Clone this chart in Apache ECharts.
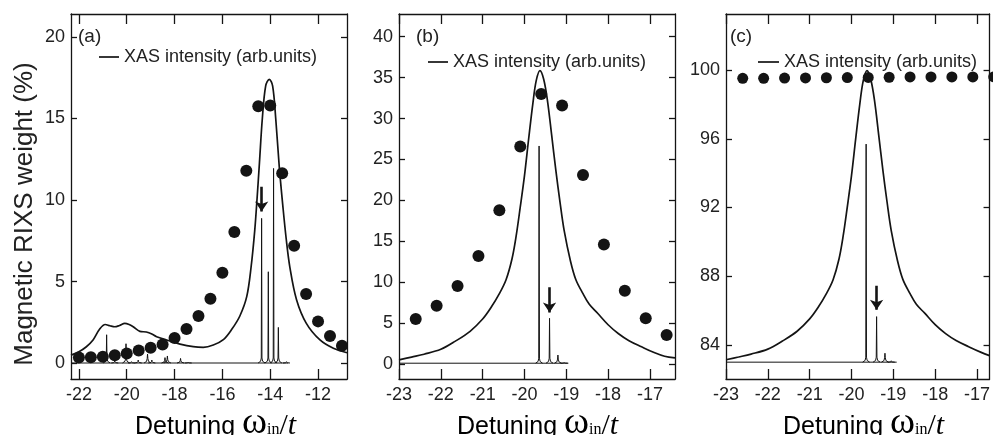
<!DOCTYPE html>
<html><head><meta charset="utf-8">
<script src="https://cdn.jsdelivr.net/npm/echarts@6/dist/echarts.min.js"></script>
<style>html,body{margin:0;padding:0;background:#fff}#c{width:993px;height:435px}</style>
</head><body><div id="c"></div>
<script>
// ---------- data ----------
const xTicksA = [-22,-20,-18,-16,-14,-12];
const yTicksA = [0,5,10,15,20];
const xTicksB = [-23,-22,-21,-20,-19,-18,-17];
const yTicksB = [0,5,10,15,20,25,30,35,40];
const xTicksC = [-23,-22,-21,-20,-19,-18,-17];
const yTicksC = [84,88,92,96,100];

const dotsA_x = [-22,-21.5,-21,-20.5,-20,-19.5,-19,-18.5,-18,-17.5,-17,-16.5,-16,-15.5,-15,-14.5,-14,-13.5,-13,-12.5,-12,-11.5,-11];
const dotsA_y = [0.35,0.37,0.4,0.5,0.6,0.78,0.95,1.15,1.55,2.1,2.9,3.95,5.55,8.05,11.8,15.75,15.8,11.65,7.2,4.25,2.57,1.67,1.08];
const dotsB_x = [-22.6,-22.1,-21.6,-21.1,-20.6,-20.1,-19.6,-19.1,-18.6,-18.1,-17.6,-17.1,-16.6];
const dotsB_y = [5.5,7.13,9.54,13.2,18.8,26.6,33.0,31.6,23.1,14.6,8.96,5.59,3.55];
const dotsC_x = [-22.6,-22.1,-21.6,-21.1,-20.6,-20.1,-19.6,-19.1,-18.6,-18.1,-17.6,-17.1,-16.6];
const dotsC_y = [99.52,99.52,99.53,99.54,99.55,99.56,99.57,99.58,99.6,99.6,99.6,99.6,99.6];

const xasA = [[-22.33,0.5],[-22.0,0.71],[-21.7,1.0],[-21.4,1.45],[-21.13,2.1],[-20.9,2.38],[-20.7,2.3],[-20.5,2.24],[-20.3,2.32],[-20.08,2.45],[-19.9,2.38],[-19.73,2.24],[-19.45,1.96],[-19.18,1.92],[-18.95,1.8],[-18.75,1.63],[-18.33,1.43],[-17.77,1.18],[-17.22,1.02],[-16.8,0.98],[-16.38,1.12],[-15.96,1.45],[-15.6,2.1],[-15.27,2.9],[-14.98,4.1],[-14.8,5.9],[-14.65,8.1],[-14.55,10.1],[-14.45,12.3],[-14.33,15.0],[-14.19,17.0],[-14.04,17.4],[-13.9,17.0],[-13.77,15.0],[-13.62,12.0],[-13.47,9.6],[-13.33,7.6],[-13.18,5.9],[-12.9,3.9],[-12.49,2.45],[-11.92,1.43],[-11.36,0.92],[-10.79,0.65]];
const xasB = [[-23.0,0.5],[-22.7,0.85],[-22.4,1.2],[-22.0,1.8],[-21.65,2.8],[-21.3,4.0],[-21.0,5.5],[-20.8,6.9],[-20.6,8.6],[-20.44,10.3],[-20.3,12.8],[-20.2,15.6],[-20.1,19.2],[-20.0,23.0],[-19.9,27.5],[-19.8,31.8],[-19.72,34.6],[-19.63,35.86],[-19.54,34.8],[-19.45,32.2],[-19.35,28.0],[-19.25,23.7],[-19.15,19.8],[-19.05,16.3],[-18.9,12.6],[-18.77,10.3],[-18.6,8.6],[-18.45,7.3],[-18.25,6.2],[-18.0,4.8],[-17.75,3.7],[-17.5,2.85],[-17.2,2.1],[-16.9,1.4],[-16.65,0.95],[-16.4,0.75]];
const xasC = [[-23.0,83.14],[-22.7,83.30],[-22.4,83.47],[-22.0,83.76],[-21.65,84.23],[-21.3,84.80],[-21.0,85.52],[-20.8,86.18],[-20.6,86.99],[-20.44,87.80],[-20.3,88.99],[-20.2,90.33],[-20.1,92.04],[-20.0,93.85],[-19.9,95.99],[-19.8,98.04],[-19.72,99.37],[-19.63,99.97],[-19.54,99.46],[-19.45,98.23],[-19.35,96.23],[-19.25,94.18],[-19.15,92.32],[-19.05,90.66],[-18.9,88.90],[-18.77,87.80],[-18.6,86.99],[-18.45,86.37],[-18.25,85.85],[-18.0,85.18],[-17.75,84.66],[-17.5,84.26],[-17.2,83.90],[-16.9,83.57],[-16.7,83.38]];

// sticks: [position, peak value]; baseline segments: [[x0,base],[x1,base]]
const sticksA = [[-20.84,1.75],[-20.5,0.15],[-20.03,1.2],[-19.8,0.1],[-19.52,0.2],[-19.13,0.57],[-18.95,0.2],[-18.4,0.35],[-18.3,0.45],[-17.75,0.3],[-17.43,0.08],[-14.36,8.88],[-14.08,5.61],[-13.86,11.94],[-13.66,2.2],[-13.32,0.1]];
const baseA = [[-22.33,0.02],[-13.25,0.02]];
const sticksB = [[-19.65,26.65],[-19.40,5.59],[-19.20,1.1],[-19.05,0.2]];
const baseB = [[-23.0,0.1],[-18.95,0.1]];
const sticksC = [[-19.65,95.69],[-19.40,85.65],[-19.20,83.52],[-19.05,83.08]];
const baseC = [[-23.0,83.0],[-18.92,83.0]];

// arrows: [x, from, to]
const arrowA = [-14.36, 10.81, 9.3];
const arrowB = [-19.40, 9.38, 6.3];
const arrowC = [-19.40, 87.45, 86.05];

const xRangeA = [-22.33,-10.79], yRangeA = [-0.96,21.4];
const xRangeB = [-23,-16.4], yRangeB = [-1.83,42.78];
const xRangeC = [-23,-16.7], yRangeC = [82.02,103.26];

const XAS_NAME = 'XAS intensity (arb.units)';
// ---------- chart ----------
const INK = '#141414';
const FONT = '"Liberation Sans", Arial, sans-serif';
const SERIF = '"Liberation Serif", "DejaVu Serif", serif';
const chart = echarts.init(document.getElementById('c'), null, {renderer:'canvas'});

const grids = [
  {left:71, top:14, width:276, height:365},
  {left:399, top:14, width:276, height:365},
  {left:726, top:14, width:266, height:365}
];
const xr = [xRangeA,xRangeB,xRangeC], yr=[yRangeA,yRangeB,yRangeC];
const xt = [xTicksA,xTicksB,xTicksC], yt=[yTicksA,yTicksB,yTicksC];
const lineSt = {color:INK, width:1.3};
const xAxes=[], yAxes=[];
for (let i=0;i<3;i++){
  xAxes.push({gridIndex:i,type:'value',min:xr[i][0],max:xr[i][1],position:'bottom',
    axisLine:{show:true,onZero:false,lineStyle:lineSt},
    axisTick:{show:true,inside:true,length:10,customValues:xt[i],lineStyle:lineSt},
    axisLabel:{show:true,customValues:xt[i],margin:7,fontSize:18,color:'#222',fontFamily:FONT},
    splitLine:{show:false}});
  xAxes.push({gridIndex:i,type:'value',min:xr[i][0],max:xr[i][1],position:'top',
    axisLine:{show:true,onZero:false,lineStyle:lineSt},
    axisTick:{show:true,inside:true,length:10,customValues:xt[i],lineStyle:lineSt},
    axisLabel:{show:false},splitLine:{show:false}});
  yAxes.push({gridIndex:i,type:'value',min:yr[i][0],max:yr[i][1],position:'left',
    axisLine:{show:true,onZero:false,lineStyle:lineSt},
    axisTick:{show:true,inside:true,length:6,customValues:yt[i],lineStyle:lineSt},
    axisLabel:{show:true,customValues:yt[i],margin:6,fontSize:18,color:'#222',fontFamily:FONT},
    splitLine:{show:false}});
  yAxes.push({gridIndex:i,type:'value',min:yr[i][0],max:yr[i][1],position:'right',
    axisLine:{show:true,onZero:false,lineStyle:lineSt},
    axisTick:{show:true,inside:true,length:6,customValues:yt[i],lineStyle:lineSt},
    axisLabel:{show:false},splitLine:{show:false}});
}

function stickSeries(i, sticks, base){
  return {type:'custom', xAxisIndex:2*i, yAxisIndex:2*i, clip:true, z:3,
    data:sticks, encode:{x:0,y:1},
    renderItem:function(params, api){
      const p1 = api.coord([api.value(0), api.value(1)]);
      const p0 = api.coord([api.value(0), base]);
      const h = p0[1]-p1[1];
      const f = Math.min(5, h*0.5);
      return {type:'polyline', shape:{points:[[p0[0]-3.5,p0[1]],[p0[0]-1,p0[1]-f*0.35],[p0[0]-0.35,p0[1]-f],[p1[0],p1[1]],[p0[0]+0.35,p0[1]-f],[p0[0]+1,p0[1]-f*0.35],[p0[0]+3.5,p0[1]]]},
        style:{stroke:INK, fill:null, lineWidth:1}};
    }};
}
function baseSeries(i, pts){
  return {type:'line', xAxisIndex:2*i, yAxisIndex:2*i, data:pts, symbol:'none', silent:true, z:3,
    lineStyle:{color:INK,width:1}};
}
function xasSeries(i, pts){
  return {name:XAS_NAME, type:'line', xAxisIndex:2*i, yAxisIndex:2*i, data:pts, symbol:'none', smooth:0.35, z:4,
    lineStyle:{color:INK,width:1.7}, itemStyle:{color:INK}};
}
function dotSeries(i, xs, ys, size){
  return {type:'scatter', xAxisIndex:2*i, yAxisIndex:2*i, data:xs.map((x,k)=>[x,ys[k]]), symbol:'circle', symbolSize:size, clip:false, z:6,
    itemStyle:{color:INK, opacity:1}};
}
function arrowSeries(i, a){
  return {type:'lines', coordinateSystem:'cartesian2d', xAxisIndex:2*i, yAxisIndex:2*i, z:7,
    symbol:['none','arrow'], symbolSize:[0,10],
    lineStyle:{color:INK,width:2.6,opacity:1},
    data:[{coords:[[a[0],a[1]],[a[0],a[2]]]}]};
}

const series = [
  xasSeries(0,xasA), baseSeries(0,baseA), stickSeries(0,sticksA,baseA[0][1]), dotSeries(0,dotsA_x,dotsA_y,12), arrowSeries(0,arrowA),
  xasSeries(1,xasB), baseSeries(1,baseB), stickSeries(1,sticksB,baseB[0][1]), dotSeries(1,dotsB_x,dotsB_y,12), arrowSeries(1,arrowB),
  xasSeries(2,xasC), baseSeries(2,baseC), stickSeries(2,sticksC,baseC[0][1]), dotSeries(2,dotsC_x,dotsC_y,11), arrowSeries(2,arrowC)
];

function legendAt(left, top, w){
  return {left:left, top:top, padding:0, icon:'rect', itemWidth:w, itemHeight:1.7, selectedMode:false, data:[XAS_NAME],
    itemStyle:{color:INK, borderWidth:0},
    textStyle:{fontSize:18, color:'#222', fontFamily:FONT}};
}

const xTitleRich = {
  s:{fontFamily:FONT, fontSize:25, color:'#222', verticalAlign:'bottom', padding:[0,0,2,0]},
  w:{fontFamily:SERIF, fontSize:38, color:'#222', verticalAlign:'bottom'},
  i:{fontFamily:SERIF, fontSize:16, color:'#222', verticalAlign:'bottom', padding:[0,0,4,0]},
  t:{fontFamily:SERIF, fontSize:30, color:'#222', verticalAlign:'bottom', padding:[0,0,1,0]},
  it:{fontFamily:SERIF, fontSize:30, fontStyle:'italic', color:'#222', verticalAlign:'bottom', padding:[0,0,1,0]}
};
const xTitleText = '{s|Detuning }{w|ω}{i|in}{t|/}{it|t}';
function xTitle(x){
  return {type:'text', x:x, y:423, style:{text:xTitleText, rich:xTitleRich, align:'left', verticalAlign:'middle'}};
}
function panelLabel(x, t){
  return {type:'text', x:x, y:37, style:{text:t, font:'19px '+FONT, fill:'#222', align:'left', verticalAlign:'middle'}};
}

chart.setOption({
  animation:false,
  backgroundColor:'#fff',
  grid:grids, xAxis:xAxes, yAxis:yAxes, series:series,
  legend:[legendAt(99,48,20), legendAt(428,53,20), legendAt(758,53,21)],
  graphic:[
    {type:'text', x:25, y:214, rotation:Math.PI/2, style:{text:'Magnetic RIXS weight (%)', font:'26px '+FONT, fill:'#222', align:'center', verticalAlign:'middle'}},
    xTitle(135), xTitle(457), xTitle(783),
    panelLabel(78,'(a)'), panelLabel(416,'(b)'), panelLabel(730,'(c)')
  ]
});
</script></body></html>
